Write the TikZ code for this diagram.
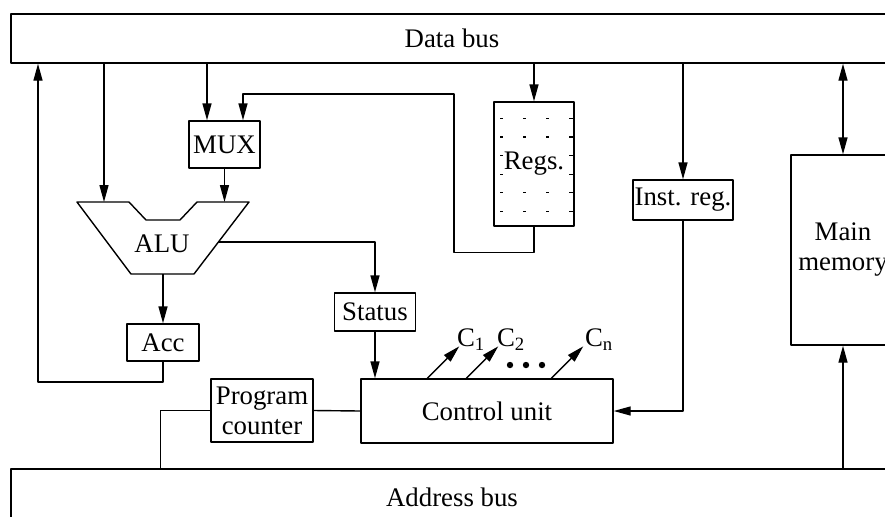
\documentclass[tikz,border=0pt]{standalone}
\usepackage{fontspec}
\setmainfont{Liberation Serif}
\usetikzlibrary{arrows.meta}

\begin{document}
\begin{tikzpicture}[x=0.5pt, y=-0.5pt, line width=0.7pt, line join=round,
    font=\fontsize{13.4}{15}\selectfont,
    box/.style={draw, inner sep=0pt, align=center},
    arr/.style={-{Triangle[length=8.5pt,width=4.5pt]}},
    regline/.style={line width=0.6pt, dash pattern=on 1pt off 2.5pt on 1.5pt off 10pt on 1.5pt off 10pt on 1.5pt off 10pt on 2pt}]
    \useasboundingbox (0,0) rectangle (885,516);
    \clip (0,0) rectangle (885,516);
    % busses
    \node[box, minimum width=441pt, minimum height=24.5pt] (databus) at (452,38.5) {Data bus};
    \node[box, minimum width=441pt, minimum height=28pt] (addrbus) at (452,497) {Address bus};
    % boxes
    \node[box, minimum width=35.5pt, minimum height=23.5pt] (mux) at (224.5,144.5) {MUX};
    \node[box, minimum width=40pt, minimum height=62pt] (regs) at (534,164) {};
    \node[box, minimum width=50pt, minimum height=20pt] (instreg) at (683,200) {Inst. reg.};
    \node[box, minimum width=52pt, minimum height=95pt] (mainmem) at (843,250) {Main\\memory};
    \node[box, minimum width=40.5pt, minimum height=19pt] (status) at (375,312) {Status};
    \node[box, minimum width=36pt, minimum height=18.5pt] (acc) at (163,342.5) {Acc};
    \node[box, minimum width=51pt, minimum height=31.5pt] (pc) at (262,410.5) {Program\\counter};
    \node[box, minimum width=126pt, minimum height=32pt] (cu) at (487,411) {Control unit};
    % register file
    \foreach \i in {0,...,5}
        \draw[regline] ([yshift=-8.5pt-9.3pt*\i]regs.north west) -- ++(80,0);
    \node[fill=white, inner sep=0.5pt] (regslabel) at (regs) {Regs.};
    % ALU
    \draw (77,202) -- (129,202) -- (146,220) -- (180,220) -- (197,202) -- (249,202)
        -- (194,274) -- (131,274) -- cycle;
    \node (alu) at (162,244) {ALU};
    \coordinate (aluA) at (104,202);
    \coordinate (aluB) at (224.5,202);
    \coordinate (aluout) at (218.4,242);
    \coordinate (alubot) at (163,274);
    \coordinate (accret) at (38,382);
    % connections
    \draw[arr] (acc.south) |- (accret) -- (accret |- databus.south);
    \draw[arr] (databus.south -| aluA) -- (aluA);
    \draw[arr] ([xshift=-8.75pt]mux.north |- databus.south) -- ([xshift=-8.75pt]mux.north);
    \draw[arr] (regs.south) -- ++(0,26) -| (454,94) -| ([xshift=9.25pt]mux.north);
    \draw[arr] (mux.south) -- (aluB);
    \draw[arr] (aluout) -| (status.north);
    \draw[arr] (alubot) -- (acc.north);
    \draw[arr] (status.south) -- (status.south |- cu.north);
    \draw[arr] (databus.south -| regs.north) -- (regs.north);
    \draw[arr] (databus.south -| instreg.north) -- (instreg.north);
    \draw[arr] (instreg.south) |- (cu.east);
    \draw[{Triangle[length=8.5pt,width=4.5pt]}-{Triangle[length=8.5pt,width=4.5pt]}]
        (databus.south -| mainmem.north) -- (mainmem.north);
    \draw[arr] (addrbus.north -| mainmem.south) -- (mainmem.south);
    \draw (pc.east) -- (cu.west);
    \draw (pc.west) -| ([xshift=-25pt]pc.west |- addrbus.north);
    % control lines
    \foreach \dx/\lab/\sh in {33.5/1/-1.5, 53/2/-1, 95.5/n/0.5}
        \draw[arr] ([xshift=\dx pt]cu.north west) -- ++(32,-32)
            node[anchor=base west, inner sep=0pt, xshift=\sh pt] {C\textsubscript{\lab}};
    \foreach \x in {510,526,542}
        \fill (\x,365) circle (1.6pt);
\end{tikzpicture}
\end{document}
